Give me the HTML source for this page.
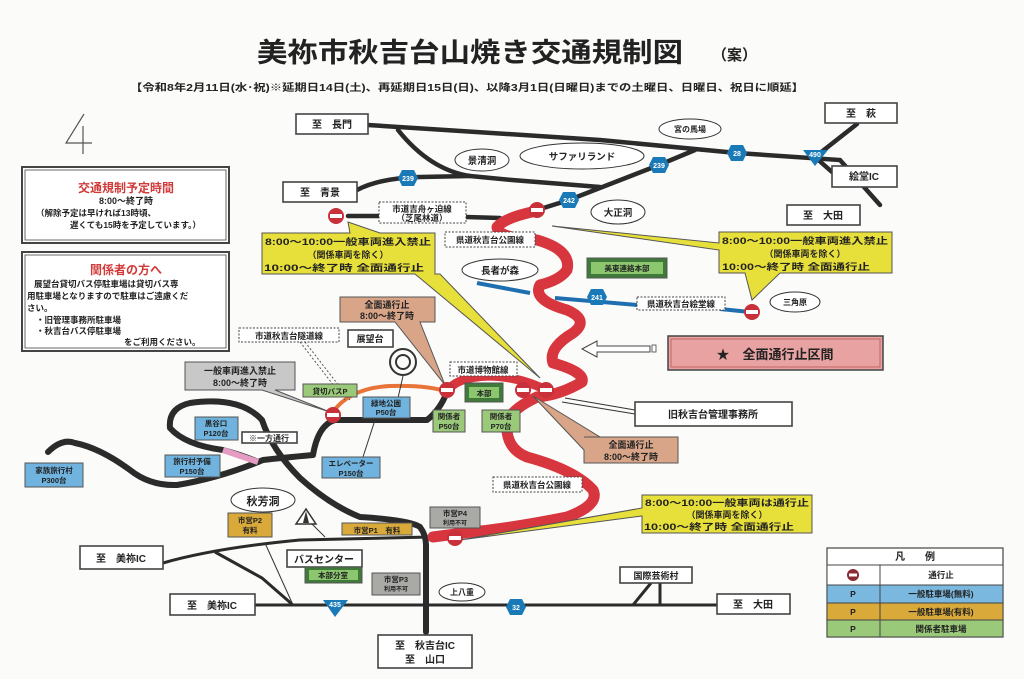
<!DOCTYPE html>
<html><head><meta charset="utf-8"><style>
html,body{margin:0;padding:0;background:#fbfbf9}
svg{display:block}
text{font-family:"Liberation Sans","Noto Sans CJK JP",sans-serif;font-weight:bold;fill:#222}
</style></head><body>
<svg width="1024" height="679" viewBox="0 0 1024 679" xmlns="http://www.w3.org/2000/svg">
<rect width="1024" height="679" fill="#fbfbf9"/>
<!-- title -->
<text x="257" y="62" font-size="27" textLength="426" lengthAdjust="spacingAndGlyphs">美祢市秋吉台山焼き交通規制図</text>
<text x="712" y="60" font-size="15">（案）</text>
<text x="130" y="91" font-size="10" textLength="674" lengthAdjust="spacingAndGlyphs">【令和8年2月11日(水･祝)※延期日14日(土)、再延期日15日(日)、以降3月1日(日曜日)までの土曜日、日曜日、祝日に順延】</text>
<!-- handwritten 4 -->
<path d="M84 114 L66 143 L92 143 M83 126 L83 154" stroke="#555" stroke-width="1.2" fill="none"/>
<!-- left info boxes -->
<rect x="22" y="167" width="207" height="76" fill="#fff" stroke="#444" stroke-width="2"/>
<rect x="25" y="170" width="201" height="70" fill="none" stroke="#444" stroke-width="0.8"/>
<text x="126" y="192" font-size="12" text-anchor="middle" style="fill:#d23a3a">交通規制予定時間</text>
<text x="126" y="204" font-size="9" text-anchor="middle">8:00～終了時</text>
<text x="36" y="216" font-size="8.5" font-weight="normal">（解除予定は早ければ13時頃、</text>
<text x="70" y="228" font-size="8.5" font-weight="normal">遅くても15時を予定しています。）</text>
<rect x="22" y="252" width="207" height="99" fill="#fff" stroke="#444" stroke-width="2"/>
<rect x="25" y="255" width="201" height="93" fill="none" stroke="#444" stroke-width="0.8"/>
<text x="126" y="274" font-size="12" text-anchor="middle" style="fill:#d23a3a">関係者の方へ</text>
<text x="34" y="287" font-size="8.5" font-weight="normal">展望台貸切バス停駐車場は貸切バス専</text>
<text x="27" y="299" font-size="8.5" font-weight="normal">用駐車場となりますので駐車はご遠慮くだ</text>
<text x="27" y="311" font-size="8.5" font-weight="normal">さい。</text>
<text x="36" y="323" font-size="8.5" font-weight="normal">・旧管理事務所駐車場</text>
<text x="36" y="334" font-size="8.5" font-weight="normal">・秋吉台バス停駐車場</text>
<text x="124" y="345" font-size="8.5" font-weight="normal">をご利用ください。</text>

<!-- black roads top -->
<g stroke="#2b2b2b" stroke-width="4.5" fill="none" stroke-linecap="round">
<path d="M368 125 L600 140 L737 153 L840 160 L880 205"/>
<path d="M398 130 Q430 170 470 176 L512 180 L600 187"/>
<path d="M357 190 Q380 178 420 177 L470 176"/>
<path d="M537 210 L569 200 L659 165 L695 150"/>
<path d="M857 124 L815 157 L832 172"/>
<path d="M348 216 L379 216 M466 217 L500 218"/>
</g>
<!-- lower black roads -->
<g stroke="#2b2b2b" stroke-width="6" fill="none" stroke-linecap="round" stroke-linejoin="round">
<path d="M48 452 Q62 438 75 443 Q100 448 130 470 Q150 486 177 485 Q220 478 263 460 Q280 458 313 455 Q318 425 335 420 L427 420 Q440 410 447 392"/>
<path d="M258 462 Q245 456 223 450 Q185 445 170 428 Q168 408 190 403 Q240 396 262 420 Q272 450 300 478 Q330 505 360 517 Q410 520 420 527 Q426 535 426 545 L426 632"/>
</g>
<g stroke="#2b2b2b" stroke-width="3" fill="none">
<path d="M163 563 Q215 548 300 540 L430 537"/>
<path d="M215 552 L262 578 L293 605"/>
<path d="M255 605 L717 605"/>
<path d="M660 583 L660 605 M651 583 L633 605"/>
</g>
<path d="M265 543 L293 605" stroke="#333" stroke-width="1" fill="none"/>
<path d="M223 450 L258 462" stroke="#e69bc2" stroke-width="6"/>
<!-- orange curve -->
<path d="M333 412 Q350 388 390 386 Q430 385 447 392" stroke="#e8743a" stroke-width="4" fill="none"/>
<!-- blue road -->
<g stroke="#1f6fb0" stroke-width="4" fill="none">
<path d="M477 283 L530 293"/><path d="M555 298 L637 305"/><path d="M720 309 L750 312"/>
</g>
<!-- red closed road -->
<path d="M532 212 Q505 218 497 227 Q498 238 537 240 Q572 250 567 270 Q560 280 540 285 Q532 300 567 310 Q590 320 573 333 Q548 348 553 363 Q585 372 582 382 Q560 395 537 397 Q510 410 507 423 Q505 448 527 457 Q575 470 593 490 Q600 505 567 517 Q513 528 463 533 L433 537" stroke="#d8363f" stroke-width="11" fill="none" stroke-linejoin="round" stroke-linecap="round"/>
<path d="M447 392 Q455 377 490 376 Q520 377 546 390" stroke="#d8363f" stroke-width="9" fill="none"/>

<!-- callouts -->
<g stroke="#555" stroke-width="1">
<polygon points="262,233 350,233 348,222 380,233 435,233 435,274 440,274 540,378 415,274 262,274" fill="#e8e03a"/>
<polygon points="719,232 892,232 892,273 780,273 752,300 745,273 719,273 719,250 552,226 719,243" fill="#e8e03a"/>
<polygon points="642,495 812,495 812,533 642,533 642,516 460,540 642,508" fill="#e8e03a"/>
<polygon points="340,297 435,297 435,322 420,322 445,385 395,322 340,322" fill="#d9a589"/>
<polygon points="584,437 678,437 678,463 584,463 584,450 533,396 600,437" fill="#d9a589"/>
<polygon points="185,362 295,362 295,390 275,390 330,412 262,390 185,390" fill="#c8c8c8"/>
</g>
<text x="348" y="245" font-size="9" text-anchor="middle" textLength="166" lengthAdjust="spacingAndGlyphs">8:00～10:00一般車両進入禁止</text>
<text x="348" y="258" font-size="9" text-anchor="middle">（関係車両を除く）</text>
<text x="264" y="271" font-size="9" textLength="160" lengthAdjust="spacingAndGlyphs">10:00～終了時 全面通行止</text>
<text x="805" y="244" font-size="9" text-anchor="middle" textLength="166" lengthAdjust="spacingAndGlyphs">8:00～10:00一般車両進入禁止</text>
<text x="805" y="257" font-size="9" text-anchor="middle">（関係車両を除く）</text>
<text x="722" y="270" font-size="9" textLength="148" lengthAdjust="spacingAndGlyphs">10:00～終了時 全面通行止</text>
<text x="727" y="506" font-size="9" text-anchor="middle" textLength="164" lengthAdjust="spacingAndGlyphs">8:00～10:00一般車両は通行止</text>
<text x="727" y="518" font-size="9" text-anchor="middle">（関係車両を除く）</text>
<text x="644" y="530" font-size="9" textLength="150" lengthAdjust="spacingAndGlyphs">10:00～終了時 全面通行止</text>
<text x="387" y="308" font-size="9" text-anchor="middle">全面通行止</text>
<text x="387" y="319" font-size="9" text-anchor="middle">8:00～終了時</text>
<text x="631" y="448" font-size="9" text-anchor="middle">全面通行止</text>
<text x="631" y="460" font-size="9" text-anchor="middle">8:00～終了時</text>
<text x="240" y="374" font-size="9" text-anchor="middle">一般車両進入禁止</text>
<text x="240" y="386" font-size="9" text-anchor="middle">8:00～終了時</text>

<!-- lines to labels -->
<g stroke="#333" stroke-width="1" fill="none">
<path d="M635 410 L565 398 M635 414 L562 402"/>
<path d="M403 376 L398 398"/>
<path d="M362 460 L375 420"/>
<path d="M305 517 L325 537"/>
</g>
<path d="M300 342 L345 400 M305 342 L350 400" stroke="#555" stroke-width="1" stroke-dasharray="2,2"/>

<!-- white boxed destination labels -->
<g fill="#fff" stroke="#444" stroke-width="1.6">
<rect x="296" y="114" width="72" height="20"/>
<rect x="283" y="182" width="74" height="20"/>
<rect x="825" y="103" width="72" height="20"/>
<rect x="832" y="166" width="65" height="21"/>
<rect x="787" y="205" width="73" height="20"/>
<rect x="80" y="546" width="83" height="23"/>
<rect x="170" y="594" width="85" height="21"/>
<rect x="717" y="594" width="73" height="20"/>
<rect x="620" y="567" width="72" height="16"/>
<rect x="378" y="635" width="94" height="33"/>
<rect x="635" y="402" width="157" height="24"/>
<rect x="287" y="550" width="75" height="17"/>
<rect x="348" y="330" width="45" height="17"/>
<rect x="242" y="432" width="55" height="11"/>
</g>
<g font-size="10">
<text x="332" y="128" text-anchor="middle">至　長門</text>
<text x="320" y="196" text-anchor="middle">至　青景</text>
<text x="861" y="117" text-anchor="middle">至　萩</text>
<text x="864" y="180" text-anchor="middle">絵堂IC</text>
<text x="823" y="219" text-anchor="middle">至　大田</text>
<text x="121" y="562" text-anchor="middle">至　美祢IC</text>
<text x="212" y="609" text-anchor="middle">至　美祢IC</text>
<text x="753" y="608" text-anchor="middle">至　大田</text>
<text x="656" y="579" text-anchor="middle" font-size="9">国際芸術村</text>
<text x="425" y="649" text-anchor="middle">至　秋吉台IC</text>
<text x="425" y="663" text-anchor="middle">至　山口</text>
<text x="713" y="418" text-anchor="middle">旧秋吉台管理事務所</text>
<text x="324" y="563" text-anchor="middle">バスセンター</text>
<text x="370" y="342" text-anchor="middle" font-size="9">展望台</text>
<text x="269" y="441" text-anchor="middle" font-size="8">※一方通行</text>
</g>

<!-- dotted labels -->
<g fill="#fff" stroke="#444" stroke-width="1" stroke-dasharray="2,1.5">
<rect x="379" y="202" width="87" height="21"/>
<rect x="445" y="232" width="90" height="15"/>
<rect x="493" y="477" width="89" height="15"/>
<rect x="637" y="297" width="88" height="13"/>
<rect x="239" y="328" width="100" height="14"/>
<rect x="450" y="362" width="67" height="14"/>
</g>
<g font-size="8.5">
<text x="422" y="212" text-anchor="middle">市道吉舟ヶ迫線</text>
<text x="422" y="221" text-anchor="middle">（芝尾林道）</text>
<text x="490" y="243" text-anchor="middle">県道秋吉台公園線</text>
<text x="537" y="488" text-anchor="middle">県道秋吉台公園線</text>
<text x="681" y="307" text-anchor="middle">県道秋吉台絵堂線</text>
<text x="289" y="339" text-anchor="middle">市道秋吉台隧道線</text>
<text x="483" y="373" text-anchor="middle">市道博物館線</text>
</g>

<!-- ellipses -->
<g fill="#fff" stroke="#333" stroke-width="1">
<ellipse cx="482" cy="160" rx="27" ry="11"/>
<ellipse cx="582" cy="156" rx="62" ry="13"/>
<ellipse cx="690" cy="129" rx="31" ry="10"/>
<ellipse cx="618" cy="212" rx="27" ry="12"/>
<ellipse cx="500" cy="270" rx="38" ry="11"/>
<ellipse cx="795" cy="302" rx="25" ry="10"/>
<ellipse cx="263" cy="500" rx="32" ry="12"/>
<ellipse cx="462" cy="592" rx="23" ry="9"/>
</g>
<g font-size="9.5" text-anchor="middle">
<text x="482" y="164">景清洞</text>
<text x="582" y="160">サファリランド</text>
<text x="690" y="132" font-size="8">宮の馬場</text>
<text x="618" y="216">大正洞</text>
<text x="500" y="274">長者が森</text>
<text x="795" y="305" font-size="8">三角原</text>
<text x="263" y="505" font-size="11">秋芳洞</text>
<text x="462" y="595" font-size="8">上八重</text>
</g>
<circle cx="403" cy="362" r="13" fill="none" stroke="#333" stroke-width="2"/>
<circle cx="403" cy="362" r="7" fill="none" stroke="#333" stroke-width="2"/>
<polygon points="306,509 296,524 316,524" fill="#fff" stroke="#333" stroke-width="1.5"/>
<polygon points="306,511 303,523 309,523" fill="#333"/>

<!-- parking boxes -->
<g stroke="#555" stroke-width="1">
<rect x="303" y="384" width="54" height="13" fill="#9bc97a"/>
<rect x="363" y="397" width="47" height="21" fill="#6fb3de"/>
<rect x="433" y="410" width="32" height="22" fill="#9bc97a"/>
<rect x="482" y="410" width="38" height="22" fill="#9bc97a"/>
<rect x="465" y="383" width="38" height="19" fill="#3f7a3a"/>
<rect x="195" y="417" width="43" height="23" fill="#6fb3de"/>
<rect x="165" y="455" width="55" height="22" fill="#6fb3de"/>
<rect x="322" y="457" width="58" height="21" fill="#6fb3de"/>
<rect x="25" y="463" width="58" height="24" fill="#6fb3de"/>
<rect x="228" y="513" width="44" height="24" fill="#d9a93a"/>
<rect x="342" y="523" width="70" height="12" fill="#d9a93a"/>
<rect x="430" y="507" width="50" height="21" fill="#a9a9a6"/>
<rect x="372" y="573" width="48" height="22" fill="#a9a9a6"/>
<rect x="305" y="567" width="57" height="16" fill="#3f7a3a"/>
<rect x="587" y="258" width="80" height="20" fill="#3f7a3a"/>
</g>
<rect x="469" y="387" width="30" height="11" fill="#8cc76f"/>
<rect x="309" y="570" width="49" height="10" fill="#8cc76f"/>
<rect x="591" y="262" width="72" height="12" fill="#8cc76f"/>
<g font-size="7.5" text-anchor="middle" font-weight="normal">
<text x="330" y="394">貸切バスP</text>
<text x="386" y="406">緑地公園</text><text x="386" y="415">P50台</text>
<text x="449" y="419">関係者</text><text x="449" y="429">P50台</text>
<text x="501" y="419">関係者</text><text x="501" y="429">P70台</text>
<text x="484" y="396">本部</text>
<text x="216" y="426">黒谷口</text><text x="216" y="436">P120台</text>
<text x="192" y="464">旅行村予備</text><text x="192" y="474">P150台</text>
<text x="351" y="466">エレベーター</text><text x="351" y="476">P150台</text>
<text x="54" y="473">家族旅行村</text><text x="54" y="483">P300台</text>
<text x="250" y="523">市営P2</text><text x="250" y="533">有料</text>
<text x="377" y="533">市営P1　有料</text>
<text x="455" y="516">市営P4</text><text x="455" y="525" font-size="6">利用不可</text>
<text x="396" y="582">市営P3</text><text x="396" y="591" font-size="6">利用不可</text>
<text x="333" y="578">本部分室</text>
<text x="627" y="271">美東連絡本部</text>
</g>

<!-- hex route markers -->
<g fill="#1a7ab8">
<polygon points="398,178 402,170 414,170 418,178 414,186 402,186"/>
<polygon points="649,165 653,157 665,157 669,165 665,173 653,173"/>
<polygon points="559,200 563,192 575,192 579,200 575,208 563,208"/>
<polygon points="727,153 731,145 743,145 747,153 743,161 731,161"/>
<polygon points="587,297 591,289 603,289 607,297 603,305 591,305"/>
<polygon points="506,607 510,599 522,599 526,607 522,615 510,615"/>
<polygon points="803,150 828,150 815,166"/>
<polygon points="323,600 348,600 335,617"/>
</g>
<g font-size="7" text-anchor="middle" style="fill:#fff" font-weight="normal">
<text x="408" y="181" style="fill:#fff">239</text>
<text x="659" y="168" style="fill:#fff">239</text>
<text x="569" y="203" style="fill:#fff">242</text>
<text x="737" y="156" style="fill:#fff">28</text>
<text x="597" y="300" style="fill:#fff">241</text>
<text x="516" y="610" style="fill:#fff">32</text>
<text x="815" y="157" style="fill:#fff">490</text>
<text x="335" y="607" style="fill:#fff">435</text>
</g>

<!-- stop signs -->
<g>
<g transform="translate(336,216)"><circle r="8" fill="#c8303a"/><rect x="-6" y="-2" width="12" height="4" fill="#fff"/></g>
<g transform="translate(537,210)"><circle r="8" fill="#c8303a"/><rect x="-6" y="-2" width="12" height="4" fill="#fff"/></g>
<g transform="translate(752,312)"><circle r="8" fill="#c8303a"/><rect x="-6" y="-2" width="12" height="4" fill="#fff"/></g>
<g transform="translate(447,390)"><circle r="8" fill="#c8303a"/><rect x="-6" y="-2" width="12" height="4" fill="#fff"/></g>
<g transform="translate(523,390)"><circle r="8" fill="#c8303a"/><rect x="-6" y="-2" width="12" height="4" fill="#fff"/></g>
<g transform="translate(546,390)"><circle r="8" fill="#c8303a"/><rect x="-6" y="-2" width="12" height="4" fill="#fff"/></g>
<g transform="translate(333,415)"><circle r="8" fill="#c8303a"/><rect x="-6" y="-2" width="12" height="4" fill="#fff"/></g>
<g transform="translate(455,538)"><circle r="8" fill="#c8303a"/><rect x="-6" y="-2" width="12" height="4" fill="#fff"/></g>
</g>

<!-- arrow -->
<polygon points="582,349 597,341 597,346 650,346 650,352 597,352 597,357" fill="#fff" stroke="#444" stroke-width="1"/>
<rect x="652" y="345" width="4" height="7" fill="#fff" stroke="#444" stroke-width="0.8"/>
<!-- red section box -->
<rect x="668" y="336" width="215" height="34" fill="#e8a2a2" stroke="#444" stroke-width="1.5"/>
<rect x="671" y="339" width="209" height="28" fill="none" stroke="#b55" stroke-width="0.8"/>
<text x="775" y="359" font-size="13" text-anchor="middle">★　全面通行止区間</text>

<!-- legend -->
<rect x="827" y="548" width="176" height="89" fill="#fff" stroke="#444" stroke-width="1.2"/>
<rect x="827" y="565" width="176" height="20" fill="#fff"/>
<rect x="827" y="585" width="176" height="18" fill="#7ab8df"/>
<rect x="827" y="603" width="176" height="17" fill="#d9a93a"/>
<rect x="827" y="620" width="176" height="17" fill="#9bc97a"/>
<g stroke="#444" stroke-width="1" fill="none">
<rect x="827" y="548" width="176" height="89"/>
<path d="M827 565 H1003 M827 585 H1003 M827 603 H1003 M827 620 H1003 M880 565 V637"/>
</g>
<text x="915" y="560" font-size="10" text-anchor="middle">凡　　例</text>
<g transform="translate(853,575)"><circle r="6" fill="#8a2a33"/><rect x="-4" y="-1.5" width="8" height="3" fill="#fff"/></g>
<g font-size="8.5" text-anchor="middle" font-weight="normal">
<text x="941" y="578">通行止</text>
<text x="853" y="597">P</text><text x="941" y="597">一般駐車場(無料)</text>
<text x="853" y="615">P</text><text x="941" y="615">一般駐車場(有料)</text>
<text x="853" y="632">P</text><text x="941" y="632">関係者駐車場</text>
</g>
</svg>
</body></html>
